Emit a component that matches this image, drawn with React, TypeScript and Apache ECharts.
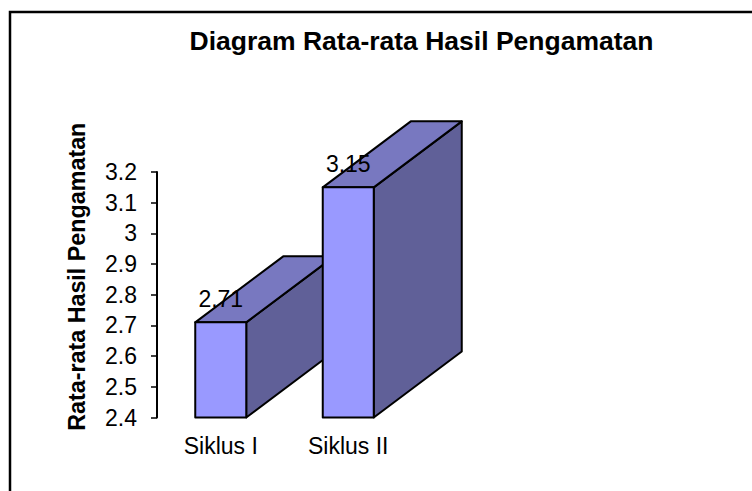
import React, { useEffect, useRef } from "react";
import * as echarts from "echarts";

const categories = ["Siklus I", "Siklus II"];
const values = [2.71, 3.15];
const yTicks = { min: 2.4, max: 3.2, step: 0.1 };
const FONT = '"Liberation Sans", Arial, sans-serif';

export default function App() {
  const ref = useRef<HTMLDivElement>(null);
  useEffect(() => {
    const chart = echarts.init(ref.current!, undefined, { renderer: "svg" });
    const DX = 88;
    const DY = -66;
    const stroke = { stroke: "#000000", lineWidth: 2, lineJoin: "round" };
    chart.setOption({
      animation: false,
      backgroundColor: "#ffffff",
      title: {
        text: "Diagram Rata-rata Hasil Pengamatan",
        left: 416.5,
        top: 22,
        textAlign: "center",
        textStyle: { fontFamily: FONT, fontSize: 26.5, fontWeight: "bold", color: "#000" },
      },
      graphic: [
        {
          type: "rect",
          shape: { x: 10, y: 12, width: 760, height: 500 },
          style: { fill: "none", stroke: "#000", lineWidth: 2.5 },
        },
      ],
      grid: { left: 157, top: 172, width: 255, height: 245.5 },
      xAxis: {
        type: "category",
        data: categories,
        axisLine: { show: false },
        axisTick: { show: false },
        axisLabel: { fontFamily: FONT, fontSize: 23, color: "#000", margin: 17 },
      },
      yAxis: {
        type: "value",
        min: yTicks.min,
        max: yTicks.max,
        interval: yTicks.step,
        name: "Rata-rata Hasil Pengamatan",
        nameLocation: "middle",
        nameGap: 69,
        nameTextStyle: {
          fontFamily: FONT,
          fontSize: 23.3,
          fontWeight: "bold",
          color: "#000",
          padding: [0, 0, 0, 36],
        },
        splitLine: { show: false },
        axisLine: { show: true, lineStyle: { color: "#000", width: 2 } },
        axisTick: { show: true, length: 6, lineStyle: { color: "#000", width: 1.5 } },
        axisLabel: {
          fontFamily: FONT,
          fontSize: 23,
          color: "#000",
          margin: 20,
          formatter: (v: number) => String(Math.round(v * 10) / 10),
        },
      },
      series: [
        {
          type: "custom",
          coordinateSystem: "cartesian2d",
          clip: false,
          encode: { x: 0, y: 1 },
          data: categories.map((c, i) => [i, values[i]]),
          renderItem: (_p: any, api: any) => {
            const i = api.value(0);
            const v = api.value(1);
            const [cx, top] = api.coord([i, v]);
            const [, bottom] = api.coord([i, yTicks.min]);
            const band = api.size([1, 0])[0];
            const w = band * 0.4;
            const l = cx - w / 2;
            const r = cx + w / 2;
            return {
              type: "group",
              children: [
                {
                  type: "polygon",
                  shape: { points: [[r, top], [r + DX, top + DY], [r + DX, bottom + DY], [r, bottom]] },
                  style: { fill: "#606098", ...stroke },
                },
                {
                  type: "polygon",
                  shape: { points: [[l, top], [l + DX, top + DY], [r + DX, top + DY], [r, top]] },
                  style: { fill: "#7878c0", ...stroke },
                },
                {
                  type: "rect",
                  shape: { x: l, y: top, width: w, height: bottom - top },
                  style: { fill: "#9999ff", ...stroke },
                },
                {
                  type: "text",
                  x: cx,
                  y: top - 12,
                  style: {
                    text: String(v),
                    fontFamily: FONT,
                    fontSize: 23,
                    fill: "#000",
                    align: "center",
                    verticalAlign: "bottom",
                  },
                  z2: 10,
                },
              ],
            };
          },
        },
      ],
    });
    return () => chart.dispose();
  }, []);
  return <div ref={ref} style={{ position: "fixed", left: 0, top: 0, width: 752, height: 491 }} />;
}
